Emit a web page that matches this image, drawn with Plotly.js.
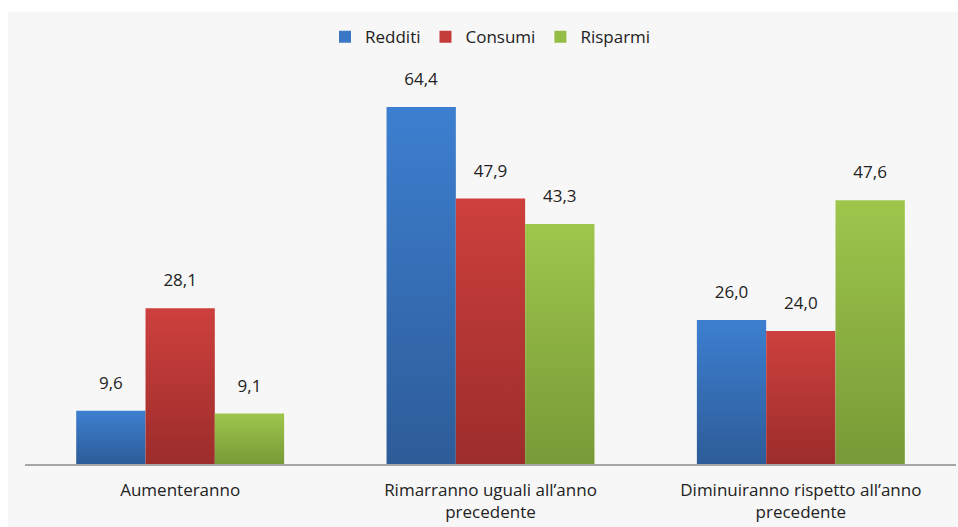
<!DOCTYPE html>
<html>
<head>
<meta charset="utf-8">
<script src="https://cdn.plot.ly/plotly-3.0.1.min.js"></script>
<style>
  html, body { margin: 0; padding: 0; background: #ffffff; }
  #chart { position: absolute; left: 8px; top: 12px; width: 950px; height: 515px; }
</style>
</head>
<body>
<div id="chart"></div>
<script>
// Categories on the x axis
const categories = [
  "Aumenteranno",
  "Rimarranno uguali all’anno<br>precedente",
  "Diminuiranno rispetto all’anno<br>precedente"
];

// Series values (percent)
const redditi  = [9.6, 64.4, 26.0];
const consumi  = [28.1, 47.9, 24.0];
const risparmi = [9.1, 43.3, 47.6];

const seriesNames = ["Redditi", "Consumi", "Risparmi"];

// Gradient stops per series: light at top, darker at the base
const palette = [
  { base: "#3a78c6", top: "#3d7fd0", bottom: "#2d5c98" },
  { base: "#c43c3a", top: "#cd403d", bottom: "#9c2d2b" },
  { base: "#94bd45", top: "#9ec64c", bottom: "#789a37" }
];

const fmt = v => v.toFixed(1).replace(".", ",");
const FONT = "Open Sans, sans-serif";
const FS = 17;

const traces = [redditi, consumi, risparmi].map((vals, i) => ({
  type: "bar",
  name: seriesNames[i],
  x: categories,
  y: vals,
  text: vals.map(fmt),
  textposition: "outside",
  cliponaxis: false,
  textfont: { family: FONT, size: FS, color: "#222222" },
  marker: { color: palette[i].base, line: { width: 0 } },
  hoverinfo: "skip"
}));

const layout = {
  width: 950,
  height: 515,
  margin: { l: 17, r: 2, t: 64, b: 63 },
  paper_bgcolor: "#f7f7f7",
  plot_bgcolor: "#f7f7f7",
  font: { family: FONT, size: FS, color: "#222222" },
  barmode: "group",
  bargap: 0.33,
  bargroupgap: 0,
  showlegend: true,
  legend: {
    orientation: "h",
    x: 0.5, xanchor: "center",
    y: 1.1, yanchor: "middle",
    font: { family: FONT, size: FS, color: "#222222" },
    bgcolor: "rgba(0,0,0,0)",
    itemwidth: 30,
    traceorder: "normal"
  },
  xaxis: {
    showline: true,
    linecolor: "#a6a6a6",
    linewidth: 1.5,
    ticks: "",
    ticklabelstandoff: 10,
    showgrid: false,
    zeroline: false,
    tickfont: { family: FONT, size: FS, color: "#222222" }
  },
  yaxis: {
    range: [0, 70],
    visible: false,
    showgrid: false,
    zeroline: false
  }
};

Plotly.newPlot("chart", traces, layout, { staticPlot: true, displayModeBar: false }).then(gd => {
  const svg = gd.querySelector("svg.main-svg");
  const ns = "http://www.w3.org/2000/svg";
  let defs = svg.querySelector("defs");
  if (!defs) { defs = document.createElementNS(ns, "defs"); svg.insertBefore(defs, svg.firstChild); }
  // Vertical shading on each bar via SVG linear gradients
  palette.forEach((p, i) => {
    const g = document.createElementNS(ns, "linearGradient");
    g.setAttribute("id", "barshade" + i);
    g.setAttribute("x1", "0"); g.setAttribute("y1", "0");
    g.setAttribute("x2", "0"); g.setAttribute("y2", "1");
    [[0, p.top], [1, p.bottom]].forEach(([o, c]) => {
      const s = document.createElementNS(ns, "stop");
      s.setAttribute("offset", o);
      s.setAttribute("stop-color", c);
      g.appendChild(s);
    });
    defs.appendChild(g);
  });
  gd.querySelectorAll(".barlayer .trace.bars").forEach((tr, i) => {
    tr.querySelectorAll(".point path").forEach(p => {
      p.style.fill = "url(#barshade" + i + ")";
    });
    // Lift the value labels a little higher above each bar
    tr.querySelectorAll("text.bartext").forEach(t => {
      const tf = t.getAttribute("transform") || "";
      t.setAttribute("transform", "translate(0,-14) " + tf);
    });
  });
});
</script>
</body>
</html>
